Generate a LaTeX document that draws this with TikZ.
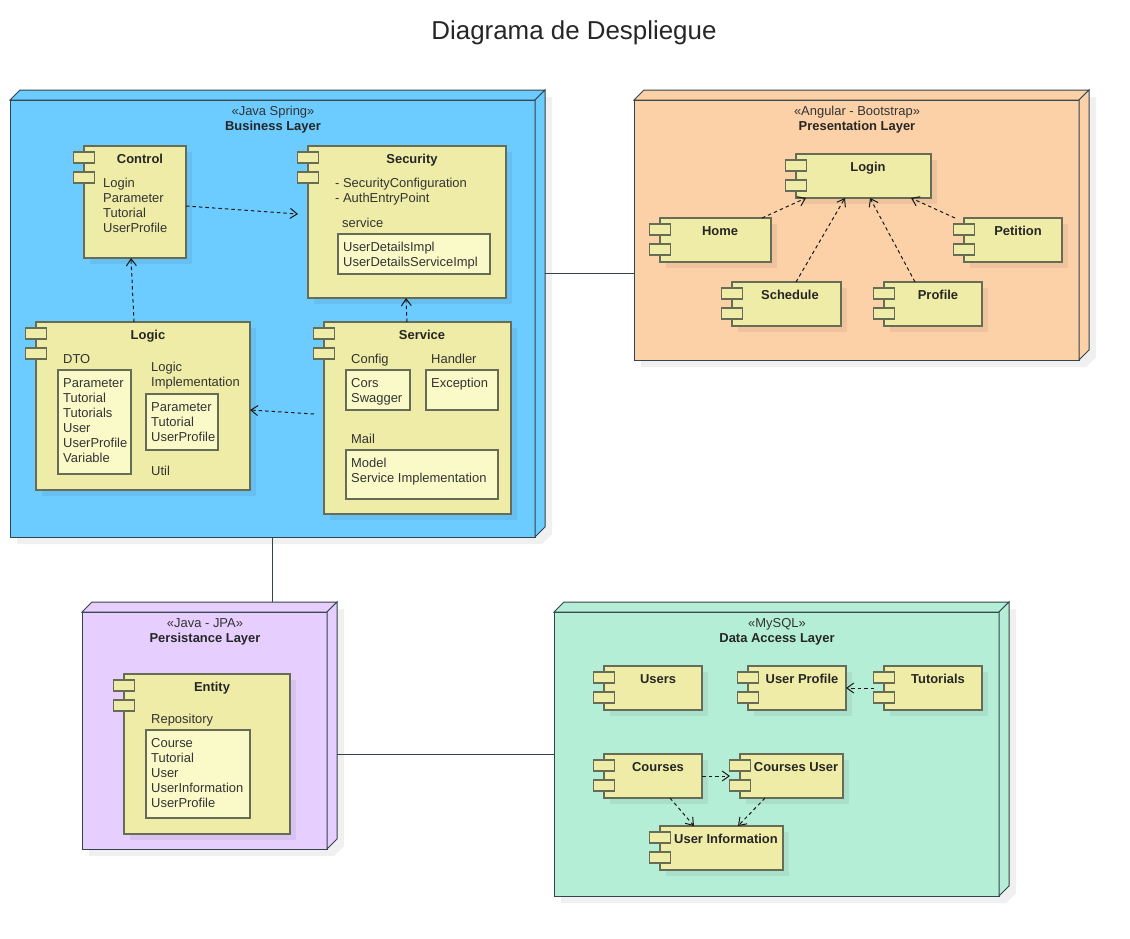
\documentclass[tikz,border=0pt]{standalone}
\usepackage{fontspec}
\setmainfont{Liberation Sans}
\usetikzlibrary{arrows.meta,shadows}
\definecolor{bizblue}{HTML}{6CCBFF}
\definecolor{presorange}{HTML}{FCD1A7}
\definecolor{perspurple}{HTML}{E6CFFF}
\definecolor{datagreen}{HTML}{B5EED6}
\definecolor{compfill}{HTML}{EEECA6}
\definecolor{innerfill}{HTML}{FAFAC8}
\definecolor{compline}{HTML}{676C56}
\definecolor{depline}{HTML}{33434B}
\definecolor{txtcol}{HTML}{333333}
\tikzset{
  depbox/.style={rectangle, draw=depline, line width=1pt, inner sep=0, outer sep=0},
  compbox/.style={rectangle, draw=compline, fill=compfill, line width=1.3pt, inner sep=0, outer sep=0,
    drop shadow={shadow xshift=6pt, shadow yshift=-6pt, opacity=.06, fill=black}},
  comptab/.style={rectangle, draw=compline, fill=compfill, line width=1.3pt, inner sep=0, outer sep=0,
    minimum width=21pt, minimum height=11pt},
  innerbox/.style={rectangle, draw=compline, fill=innerfill, line width=1.2pt, inner sep=0, outer sep=0},
  lbl/.style={anchor=north west, inner sep=0, yshift=-1pt, align=left, text=txtcol,
    font=\fontsize{12.95}{15}\selectfont, execute at begin node={\vphantom{A}}},
  stereo/.style={anchor=north, inner sep=0, yshift=-1pt, text=txtcol, font=\fontsize{12.95}{15}\selectfont},
  ttl/.style={anchor=north, inner sep=0, yshift=-1pt, text=black!85, font=\fontsize{12.95}{15}\selectfont\bfseries},
  dep/.style={dash pattern=on 3.5pt off 3pt, black!90, line width=1pt, -{Straight Barb[length=7pt,width=10pt]}},
  lnk/.style={depline, line width=1pt}
}
% deployment node: id, left, top, width, height, colour
\newcommand{\depl}[6]{
  \fill[black!6] (#2+7,#3-3) -- (#2+#4+17,#3-3) -- (#2+#4+17,#3+#5-3) -- (#2+#4+7,#3+#5+7) -- (#2+7,#3+#5+7) -- cycle;
  \node[depbox, fill=#6, minimum width=#4pt, minimum height=#5pt] (#1) at ({#2+#4/2},{#3+#5/2}) {};
  \draw[depline, line width=1pt, fill=#6] (#1.north west) -- ++(10,-10) -- ++(#4,0) -- ++(-10,10) -- cycle;
  \draw[depline, line width=1pt, fill=#6] (#1.north east) -- ++(10,-10) -- ++(0,#5) -- ++(-10,10) -- cycle;
}
% component: id, left, top, width, height
\newcommand{\comp}[5]{
  \node[compbox, minimum width=#4pt, minimum height=#5pt] (#1) at ({#2+#4/2},{#3+#5/2}) {};
  \node[comptab] (#1tabA) at (#2,#3+11.5) {};
  \node[comptab] (#1tabB) at (#2,#3+31.5) {};
}
% inner box: id, left, top, width, height
\newcommand{\inbox}[5]{
  \node[innerbox, minimum width=#4pt, minimum height=#5pt] (#1) at ({#2+#4/2},{#3+#5/2}) {};
}
\begin{document}
\begin{tikzpicture}[x=1pt,y=-1pt]
\useasboundingbox (0,0) rectangle (1130,938);
\node[inner sep=0, text=black!85, font=\fontsize{25.9}{28}\selectfont] (diagtitle) at (574,32.5) {Diagrama de Despliegue};
% deployment nodes
\depl{business}{10}{100}{525}{437}{bizblue}
\depl{presentation}{634}{100}{445}{260}{presorange}
\depl{persistance}{82}{612}{245}{237}{perspurple}
\depl{dataaccess}{554}{612}{445}{284}{datagreen}
\node[stereo] (businesss) at (273,105) {«Java Spring»};
\node[ttl] (businesst) at (273,120) {Business Layer};
\node[stereo] (presentations) at (857,105) {«Angular - Bootstrap»};
\node[ttl] (presentationt) at (857,120) {Presentation Layer};
\node[stereo] (persistances) at (205,617) {«Java - JPA»};
\node[ttl] (persistancet) at (205,632) {Persistance Layer};
\node[stereo] (dataaccesss) at (777,617) {«MySQL»};
\node[ttl] (dataaccesst) at (777,632) {Data Access Layer};
% business layer
\comp{control}{84}{146}{102}{112}
\node[ttl] (controlt) at (140,153) {Control};
\node[lbl] (controll) at (103,177) {Login\\Parameter\\Tutorial\\UserProfile};
\comp{security}{308}{146}{198}{152}
\node[ttl] (securityt) at (412,153) {Security};
\node[lbl] (securityl) at (335,177) {- SecurityConfiguration\\- AuthEntryPoint};
\node[lbl] (servicel) at (342,217) {service};
\inbox{secimpl}{338}{234}{152}{40}
\node[lbl] (secimpll) at (343,241) {UserDetailsImpl\\UserDetailsServiceImpl};
\comp{logic}{36}{322}{214}{168}
\node[ttl] (logict) at (148,329) {Logic};
\node[lbl] (dtol) at (63,353) {DTO};
\inbox{dto}{58}{370}{73}{104}
\node[lbl] (dtotxt) at (63,377) {Parameter\\Tutorial\\Tutorials\\User\\UserProfile\\Variable};
\node[lbl] (impll) at (151,361) {Logic\\Implementation};
\inbox{impl}{146}{394}{72}{56}
\node[lbl] (impltxt) at (151,401) {Parameter\\Tutorial\\UserProfile};
\node[lbl] (utill) at (151,465) {Util};
\comp{service}{324}{322}{187}{192}
\node[ttl] (servicet) at (422,329) {Service};
\node[lbl] (configl) at (351,353) {Config};
\node[lbl] (handlerl) at (431,353) {Handler};
\inbox{config}{346}{370}{64}{40}
\node[lbl] (configtxt) at (351,377) {Cors\\Swagger};
\inbox{handler}{426}{370}{72}{40}
\node[lbl] (handlertxt) at (431,377) {Exception};
\node[lbl] (maill) at (351,433) {Mail};
\inbox{mail}{346}{450}{152}{49}
\node[lbl] (mailtxt) at (351,457) {Model\\Service Implementation};
% presentation layer
\comp{login}{796}{154}{135}{44}
\node[ttl] (logint) at (868,161) {Login};
\comp{home}{660}{218}{111}{44}
\node[ttl] (homet) at (720,225) {Home};
\comp{schedule}{732}{282}{109}{44}
\node[ttl] (schedulet) at (790,289) {Schedule};
\comp{profile}{884}{282}{98}{44}
\node[ttl] (profilet) at (938,289) {Profile};
\comp{petition}{964}{218}{98}{44}
\node[ttl] (petitiont) at (1018,225) {Petition};
% persistance layer
\comp{entity}{124}{674}{166}{160}
\node[ttl] (entityt) at (212,681) {Entity};
\node[lbl] (repol) at (151,713) {Repository};
\inbox{repo}{146}{730}{104}{88}
\node[lbl] (repotxt) at (151,737) {Course\\Tutorial\\User\\UserInformation\\UserProfile};
% data access layer
\comp{users}{604}{666}{98}{44}
\node[ttl] (userst) at (658,673) {Users};
\comp{userprofile}{748}{666}{98}{44}
\node[ttl] (userprofilet) at (802,673) {User Profile};
\comp{tutorials}{884}{666}{98}{44}
\node[ttl] (tutorialst) at (938,673) {Tutorials};
\comp{courses}{604}{754}{98}{44}
\node[ttl] (coursest) at (658,761) {Courses};
\comp{coursesuser}{740}{754}{103}{44}
\node[ttl] (coursesusert) at (796,761) {Courses User};
\comp{userinfo}{660}{826}{123}{44}
\node[ttl] (userinfot) at (726,833) {User Information};
% links between deployment nodes
\draw[lnk] ([xshift=10pt,yshift=45.5pt]business.east) -- ([yshift=-43pt]presentation.west);
\draw[lnk] ([xshift=-.5pt]business.south) -- ([xshift=67.5pt,yshift=10pt]persistance.north);
\draw[lnk] ([xshift=10pt,yshift=-23.5pt]persistance.east) -- (dataaccess.west);
% dependencies
\draw[dep] ([xshift=-9pt]logic.north) -- ([xshift=-4pt]control.south);
\draw[dep] ([yshift=-4pt]control.east) -- ([xshift=-10pt,yshift=8pt]security.west);
\draw[dep] ([xshift=-10.5pt]service.north) -- ([xshift=-1pt]security.south);
\draw[dep] ([xshift=-10pt,yshift=4pt]service.west) -- ([yshift=-4pt]logic.east);
\draw[dep] ([xshift=46.5pt]home.north) -- ([xshift=-57.5pt]login.south);
\draw[dep] ([xshift=9.5pt]schedule.north) -- ([xshift=-18.5pt]login.south);
\draw[dep] ([xshift=-18pt]profile.north) -- ([xshift=6.5pt]login.south);
\draw[dep] ([xshift=-58pt]petition.north) -- ([xshift=47.5pt]login.south);
\draw[dep] ([xshift=-10pt]tutorials.west) -- (userprofile.east);
\draw[dep] (courses.east) -- ([xshift=-10pt]coursesuser.west);
\draw[dep] ([xshift=17pt]courses.south) -- ([xshift=-27.5pt]userinfo.north);
\draw[dep] ([xshift=-26.5pt]coursesuser.south) -- ([xshift=16.5pt]userinfo.north);
\end{tikzpicture}
\end{document}
